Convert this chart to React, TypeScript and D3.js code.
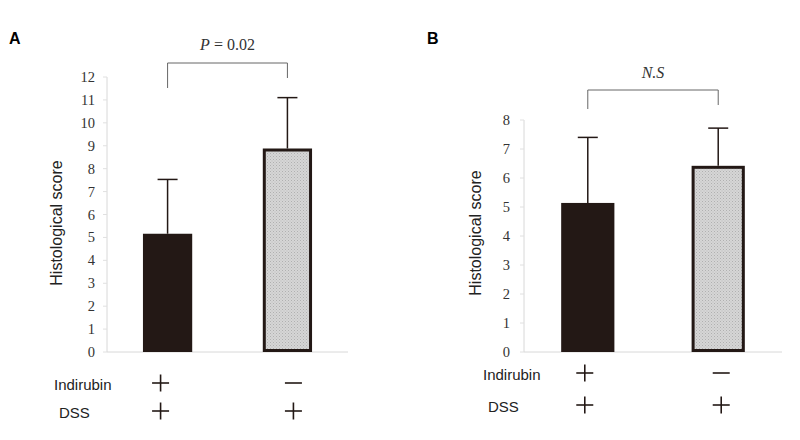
import React from "react";
import * as d3 from "d3";

const groups = ["Indirubin+ DSS+", "Indirubin- DSS+"];
const meansA = [5.16, 8.88];
const errA = [7.53, 11.1];
const meansB = [5.14, 6.42];
const errB = [7.4, 7.72];
const ticksA = d3.range(0, 13);
const ticksB = d3.range(0, 9);
const indirubinSigns = ["+", "-"];
const dssSigns = ["+", "+"];

const DARK = "#231815";
const SANS = "'Liberation Sans', Arial, sans-serif";
const SERIF = "'Liberation Serif', 'Times New Roman', serif";

type PanelProps = {
  letter: string;
  letterX: number;
  means: number[];
  errs: number[];
  ticks: number[];
  yMax: number;
  yRange: [number, number];
  xRange: [number, number];
  pIn: number;
  pOut: number;
  tickRight: number;
  ylabX: number;
  ylabY: number;
  bracketTop: number;
  bracketLeftBottom: number;
  bracketRightBottom: number;
  sigText: React.ReactNode;
  sigY: number;
  rowLabelX: number;
  rowY: [number, number];
  signShift: [number, number];
};

function Sign({ x, y, s }: { x: number; y: number; s: string }) {
  const h = 8.5;
  return (
    <g stroke={DARK} strokeWidth={1.6}>
      <line x1={x - h} x2={x + h} y1={y} y2={y} />
      {s === "+" && <line x1={x} x2={x} y1={y - h} y2={y + h} />}
    </g>
  );
}

function Panel(p: PanelProps) {
  const y = d3.scaleLinear().domain([0, p.yMax]).range(p.yRange);
  const x = d3.scaleBand<string>().domain(groups).range(p.xRange).paddingInner(p.pIn).paddingOuter(p.pOut);
  const bw = x.bandwidth();
  const y0 = y(0);
  const cx = (g: string) => (x(g) as number) + bw / 2;
  return (
    <g>
      <text x={p.letterX} y={44} fontFamily={SANS} fontWeight="bold" fontSize={16}>{p.letter}</text>
      <line x1={p.xRange[0]} x2={p.xRange[0]} y1={y(p.yMax)} y2={y0} stroke="#d8d8d8" strokeWidth={1} />
      <line x1={p.xRange[0]} x2={p.xRange[1]} y1={y0} y2={y0} stroke="#d8d8d8" strokeWidth={1} />
      {p.ticks.map((t) => (
        <g key={t}>
          <line x1={p.xRange[0] - 4} x2={p.xRange[0]} y1={y(t)} y2={y(t)} stroke="#e0e0e0" />
          <text x={p.tickRight} y={y(t)} dy="0.35em" textAnchor="end" fontFamily={SERIF} fontSize={14.5} fill="#333">{t}</text>
        </g>
      ))}
      <text transform={`translate(${p.ylabX},${p.ylabY}) rotate(-90)`} textAnchor="middle" dy="0.35em" fontFamily={SANS} fontSize={16} fill="#222">Histological score</text>
      {groups.map((g, i) => {
        const bx = x(g) as number;
        const top = y(p.means[i]);
        const et = y(p.errs[i]);
        const c = cx(g);
        return (
          <g key={g}>
            <line x1={c} x2={c} y1={top} y2={et} stroke={DARK} strokeWidth={1.5} />
            <line x1={c - 10} x2={c + 10} y1={et} y2={et} stroke={DARK} strokeWidth={1.5} />
            {i === 0 ? (
              <rect x={bx} y={top} width={bw} height={y0 - top} fill={DARK} />
            ) : (
              <rect x={bx + 1.5} y={top + 1.5} width={bw - 3} height={y0 - top - 3} fill="url(#dots)" stroke={DARK} strokeWidth={3} />
            )}
          </g>
        );
      })}
      <path
        d={`M${cx(groups[0])},${p.bracketLeftBottom}V${p.bracketTop}H${cx(groups[1])}V${p.bracketRightBottom}`}
        fill="none" stroke="#666" strokeWidth={1}
      />
      <text x={(cx(groups[0]) + cx(groups[1])) / 2} y={p.sigY} textAnchor="middle" fontFamily={SERIF} fontSize={16} fill="#333">{p.sigText}</text>
      <text x={p.rowLabelX} y={p.rowY[0]} dy="0.35em" fontFamily={SANS} fontSize={15} fill="#222">Indirubin</text>
      <text x={p.rowLabelX + 5} y={p.rowY[1]} dy="0.35em" fontFamily={SANS} fontSize={15} fill="#222">DSS</text>
      {groups.map((g, i) => (
        <g key={g}>
          <Sign x={cx(g) + p.signShift[i]} y={p.rowY[0] - 2} s={indirubinSigns[i]} />
          <Sign x={cx(g) + p.signShift[i]} y={p.rowY[1] - 2} s={dssSigns[i]} />
        </g>
      ))}
    </g>
  );
}

export default function App() {
  return (
    <svg width={800} height={440} style={{ position: "absolute", left: 0, top: 0, background: "#fff" }}>
      <defs>
        <pattern id="dots" width={3} height={3} patternUnits="userSpaceOnUse">
          <rect width={3} height={3} fill="#d6d6d6" />
          <rect width={1} height={1} fill="#b0b0b0" />
          <rect x={1.5} y={1.5} width={1} height={1} fill="#bdbdbd" />
        </pattern>
      </defs>
      <Panel
        letter="A" letterX={9}
        means={meansA} errs={errA} ticks={ticksA} yMax={12}
        yRange={[352, 77]} xRange={[107, 348]} pIn={0.589} pOut={0.3}
        tickRight={95} ylabX={56} ylabY={223}
        bracketTop={63} bracketLeftBottom={88} bracketRightBottom={78}
        sigText={<><tspan fontStyle="italic">P</tspan> = 0.02</>} sigY={50}
        rowLabelX={54} rowY={[385, 413]} signShift={[-7, 6]}
      />
      <Panel
        letter="B" letterX={427}
        means={meansB} errs={errB} ticks={ticksB} yMax={8}
        yRange={[352, 120]} xRange={[524, 782]} pIn={0.592} pOut={0.285}
        tickRight={510} ylabX={475} ylabY={233}
        bracketTop={90} bracketLeftBottom={109} bracketRightBottom={105}
        sigText={<tspan fontStyle="italic">N.S</tspan>} sigY={78}
        rowLabelX={483} rowY={[375, 407]} signShift={[-3, 3]}
      />
    </svg>
  );
}
